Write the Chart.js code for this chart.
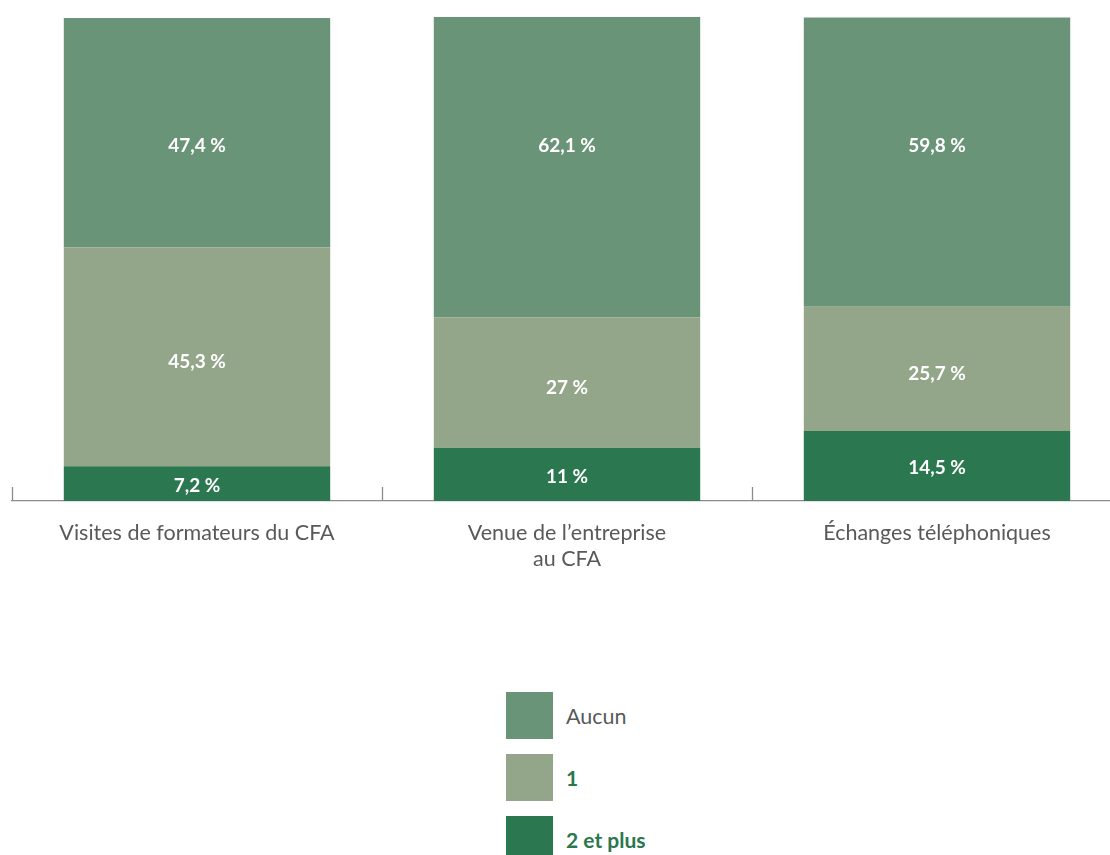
<!DOCTYPE html>
<html lang="fr">
<head>
<meta charset="utf-8">
<script src="https://cdn.jsdelivr.net/npm/chart.js@4/dist/chart.umd.min.js"></script>
<style>
  html, body { margin: 0; padding: 0; background: #fff; overflow: hidden; }
  body { width: 1110px; height: 855px; position: relative; font-family: Lato, "Open Sans", sans-serif; }
  #wrap { position: absolute; left: 0; top: 0; width: 1130px; height: 600px; }
  #legend { position: absolute; left: 506px; top: 692px; }
  .item { display: flex; align-items: center; height: 47px; margin-bottom: 15px; }
  .box { width: 47px; height: 47px; margin-right: 13px; }
  .item span { font-size: 21.5px; color: #595959; }
  .item span.bold { font-weight: bold; color: #2a7750; font-size: 21px; }
</style>
</head>
<body>
<div id="wrap"><canvas id="chart" width="1130" height="600"></canvas></div>
<div id="legend"></div>
<script>
const categories = [
  "Visites de formateurs du CFA",
  ["Venue de l’entreprise", "au CFA"],
  "Échanges téléphoniques"
];
const seriesNames = ["Aucun", "1", "2 et plus"];
const aucun = [47.4, 62.1, 59.8];
const un = [45.3, 27, 25.7];
const deuxEtPlus = [7.2, 11, 14.5];

const colors = ["#6a9477", "#94a68a", "#2a7750"];

// stacked from the bottom: "2 et plus", then "1", then "Aucun"
const datasets = [
  { label: seriesNames[2], data: deuxEtPlus, backgroundColor: colors[2] },
  { label: seriesNames[1], data: un, backgroundColor: colors[1] },
  { label: seriesNames[0], data: aucun, backgroundColor: colors[0] }
];

function formatValue(v) {
  return String(v).replace(".", ",") + " %";
}

const valueLabels = {
  id: "valueLabels",
  afterDatasetsDraw(chart) {
    const ctx = chart.ctx;
    const yScale = chart.scales.y;
    ctx.save();
    ctx.fillStyle = "#ffffff";
    ctx.font = "bold 19px Lato, 'Open Sans', sans-serif";
    ctx.textAlign = "center";
    ctx.textBaseline = "middle";
    chart.data.datasets.forEach((ds, i) => {
      const meta = chart.getDatasetMeta(i);
      meta.data.forEach((bar, j) => {
        let y = (bar.y + bar.base) / 2;
        if (i === 2) y = yScale.getPixelForValue(73.5);
        else if (i === 1) y += 5;
        else y += 2;
        ctx.fillText(formatValue(ds.data[j]), bar.x, y);
      });
    });
    ctx.restore();
  }
};

// small tick marks rising from the axis between categories
const categoryTicks = {
  id: "categoryTicks",
  afterDraw(chart) {
    const ctx = chart.ctx;
    const x = chart.scales.x;
    const bottom = chart.chartArea.bottom;
    ctx.save();
    ctx.strokeStyle = "#8c8c8c";
    ctx.lineWidth = 1.3;
    for (let i = 0; i < categories.length; i++) {
      const px = Math.round(x.getPixelForValue(i) - x.width / categories.length / 2) + 0.5;
      ctx.beginPath();
      ctx.moveTo(px, bottom - 14);
      ctx.lineTo(px, bottom);
      ctx.stroke();
    }
    ctx.restore();
  }
};

new Chart(document.getElementById("chart"), {
  type: "bar",
  data: { labels: categories, datasets },
  options: {
    responsive: false,
    animation: false,
    layout: { padding: { top: 17, left: 12, right: 8, bottom: 0 } },
    datasets: { bar: { barPercentage: 0.72, categoryPercentage: 1 } },
    scales: {
      x: {
        stacked: true,
        grid: { display: false, drawTicks: false },
        border: { display: true, color: "#8c8c8c", width: 1.3 },
        ticks: {
          color: "#595959",
          padding: 19,
          font: { family: "Lato, 'Open Sans', sans-serif", size: 21.5, lineHeight: 1.21 },
          maxRotation: 0
        },
        afterFit(scale) { scale.height = 99; }
      },
      y: { stacked: true, display: false, min: 0, max: 100.1 }
    },
    plugins: { legend: { display: false }, tooltip: { enabled: false } }
  },
  plugins: [valueLabels, categoryTicks]
});

// legend in the order shown: Aucun, 1, 2 et plus
const legend = document.getElementById("legend");
seriesNames.forEach((name, i) => {
  const item = document.createElement("div");
  item.className = "item";
  item.innerHTML = `<div class="box" style="background:${colors[i]}"></div><span class="${i === 0 ? "" : "bold"}">${name}</span>`;
  legend.appendChild(item);
});
</script>
</body>
</html>
